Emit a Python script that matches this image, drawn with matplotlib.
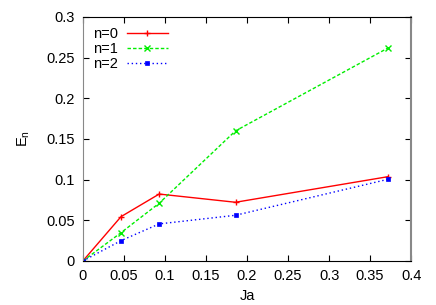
import numpy as np
import matplotlib
matplotlib.use('Agg')
import matplotlib.pyplot as plt

plt.rcParams['font.family'] = ['Liberation Sans', 'DejaVu Sans']
plt.rcParams['font.size'] = 10.5

# data
ja = [0.0, 0.0465, 0.093, 0.186, 0.372]
e_n0 = [0.0, 0.0545, 0.0823, 0.0722, 0.1037]
e_n1 = [0.0, 0.0348, 0.0710, 0.1600, 0.2620]
e_n2 = [0.0, 0.0250, 0.0456, 0.0562, 0.1005]

fig = plt.figure(figsize=(4.36, 3.05), dpi=100)
ax = fig.add_axes([0.19, 0.1443, 0.753, 0.8])

ax.plot(ja, e_n0, color='red', lw=1, ls='-', marker='+', ms=5, mew=1, label='n=0')
ax.plot(ja, e_n1, color='#00ee00', lw=1, ls=(0, (2.5, 1.5)), marker='x', ms=4, mew=1, label='n=1')
ax.plot(ja, e_n2, color='blue', lw=1, ls=(0, (1, 2)), marker='s', ms=3.5, mew=0.5, label='n=2')

ax.set_xlim(0, 0.4)
ax.set_ylim(0, 0.3)
ax.set_xticks(np.arange(0, 0.41, 0.05))
ax.set_yticks(np.arange(0, 0.31, 0.05))
ax.set_xticklabels(['0', '0.05', '0.1', '0.15', '0.2', '0.25', '0.3', '0.35', '0.4'])
ax.set_yticklabels(['0', '0.05', '0.1', '0.15', '0.2', '0.25', '0.3'])
ax.tick_params(direction='in', top=True, right=True, length=4, width=0.8, pad=6)

for side in ['left', 'right']:
    ax.spines[side].set_color('#888888')
ax.spines['right'].set_linewidth(1.5)

ax.set_xlabel('Ja', labelpad=4)
ax.set_ylabel('E$_\\mathregular{n}$', labelpad=10)

ax.legend(loc='upper left', frameon=False, markerfirst=False, handlelength=2.8,
          handletextpad=0.6, labelspacing=0.05, borderaxespad=0.3, fontsize=10.5)

fig.savefig('out.png', dpi=100)
